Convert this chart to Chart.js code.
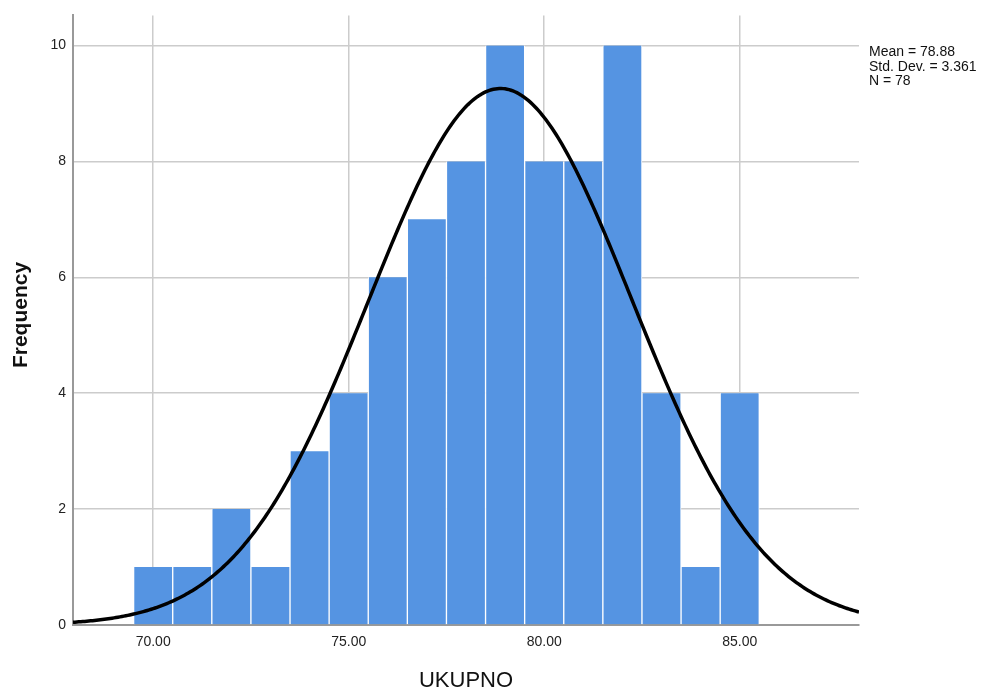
<!DOCTYPE html>
<html>
<head>
<meta charset="utf-8">
<script src="https://cdn.jsdelivr.net/npm/chart.js@4"></script>
<style>
  html, body { margin: 0; padding: 0; background: #fff; }
  #wrap { width: 984px; height: 693px; position: relative; }
</style>
</head>
<body>
<div id="wrap"><canvas id="histChart" width="984" height="693"></canvas></div>
<script>
// bin centres (width 1) and counts
var binCenters = [70, 71, 72, 73, 74, 75, 76, 77, 78, 79, 80, 81, 82, 83, 84, 85];
var frequencies = [1, 1, 2, 1, 3, 4, 6, 7, 8, 10, 8, 8, 10, 4, 1, 4];
var xTicks = [70, 75, 80, 85];
var yTicks = [0, 2, 4, 6, 8, 10];
var stats = { mean: 78.88, sd: 3.361, n: 78 };
var statLines = ['Mean = 78.88', 'Std. Dev. = 3.361', 'N = 78'];

var xMin = 67.95, xMax = 88.05;

// fitted normal curve defined by the printed Mean / Std. Dev. / N (bin width 1)
var curve = [];
for (var i = 0; i <= 402; i++) {
    var x = xMin + (xMax - xMin) * i / 402;
    var z = (x - stats.mean) / stats.sd;
    curve.push({ x: x, y: stats.n / (stats.sd * Math.sqrt(2 * Math.PI)) * Math.exp(-0.5 * z * z) });
}

var fontFam = '"Liberation Sans", Arial, sans-serif';

var textPlugin = {
    id: 'spssText',
    afterDraw: function (chart) {
        var c = chart.ctx;
        c.save();
        c.fillStyle = '#111';
        c.font = '14px ' + fontFam;
        c.textAlign = 'left';
        c.textBaseline = 'alphabetic';
        statLines.forEach(function (t, k) {
            c.fillText(t, 869, 56 + k * 14.5);
        });
        c.font = '22px ' + fontFam;
        c.textAlign = 'center';
        c.textBaseline = 'middle';
        c.fillText('UKUPNO', 466, 681);
        c.translate(21, 315);
        c.rotate(-Math.PI / 2);
        c.font = 'bold 21px ' + fontFam;
        c.fillText('Frequency', 0, 0);
        c.restore();
    }
};

var ctx = document.getElementById('histChart').getContext('2d');
new Chart(ctx, {
    data: {
        datasets: [
            {
                type: 'line',
                data: curve,
                borderColor: '#000',
                borderWidth: 3.5,
                pointRadius: 0,
                tension: 0,
                order: 0
            },
            {
                type: 'bar',
                data: binCenters.map(function (b, k) { return { x: b, y: frequencies[k] }; }),
                backgroundColor: '#5594e2',
                borderColor: '#ffffff',
                borderWidth: { left: 1, right: 1, top: 0, bottom: 0 },
                borderSkipped: false,
                barPercentage: 1.0,
                categoryPercentage: 1.0,
                grouped: false,
                order: 1
            }
        ]
    },
    options: {
        responsive: false,
        animation: false,
        layout: { padding: { top: 13, right: 125, left: 0, bottom: 0 } },
        plugins: { legend: { display: false }, tooltip: { enabled: false } },
        scales: {
            x: {
                type: 'linear',
                offset: false,
                min: xMin,
                max: xMax,
                afterBuildTicks: function (s) { s.ticks = xTicks.map(function (v) { return { value: v }; }); },
                afterFit: function (s) { s.height = 68; },
                ticks: {
                    color: '#222',
                    font: { family: fontFam, size: 14 },
                    padding: 9,
                    maxRotation: 0,
                    callback: function (v) { return v.toFixed(2); }
                },
                grid: { offset: false, color: '#cccccc', lineWidth: 1.5, drawTicks: false },
                border: { color: '#999999', width: 2 }
            },
            y: {
                type: 'linear',
                min: 0,
                max: 10.52,
                afterBuildTicks: function (s) { s.ticks = yTicks.map(function (v) { return { value: v }; }); },
                afterFit: function (s) { s.width = 73; },
                ticks: {
                    color: '#222',
                    font: { family: fontFam, size: 14 },
                    padding: 7
                },
                grid: { color: '#cccccc', lineWidth: 1.5, drawTicks: false },
                border: { color: '#999999', width: 2 }
            }
        }
    },
    plugins: [textPlugin]
});
</script>
</body>
</html>
